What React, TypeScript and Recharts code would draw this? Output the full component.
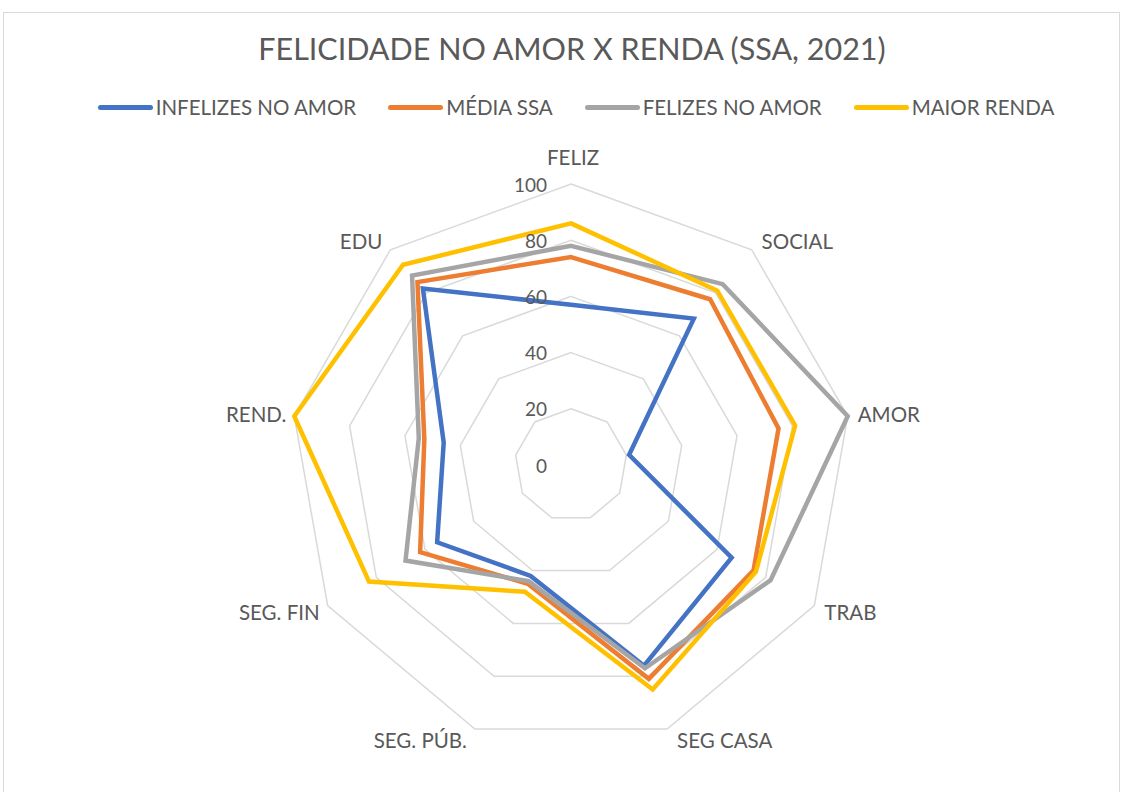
import { RadarChart, Radar, PolarGrid, PolarAngleAxis, PolarRadiusAxis } from "recharts";

const categories = ["FELIZ", "SOCIAL", "AMOR", "TRAB", "SEG CASA", "SEG. PÚB.", "SEG. FIN", "REND.", "EDU"];
const infelizes = [57, 68, 21, 66, 76, 42, 55, 46, 82];
const mediaSsa = [74, 77, 75, 75, 81, 45, 62, 53, 85];
const felizes = [78, 84, 100, 82, 77, 44, 68, 55, 88];
const maiorRenda = [86, 81, 81, 76, 85, 48, 83, 100, 93];
const radiusTicks = [0, 20, 40, 60, 80, 100];

const series = [
  { key: "infelizes", name: "INFELIZES NO AMOR", color: "#4472C4" },
  { key: "media", name: "MÉDIA SSA", color: "#ED7D31" },
  { key: "felizes", name: "FELIZES NO AMOR", color: "#A5A5A5" },
  { key: "renda", name: "MAIOR RENDA", color: "#FFC000" },
];

const data = categories.map((cat, i) => ({
  cat,
  infelizes: infelizes[i],
  media: mediaSsa[i],
  felizes: felizes[i],
  renda: maiorRenda[i],
}));

const FONT = "Lato, 'Open Sans', sans-serif";
const TEXT = "#595959";
const CX = 571;
const CY = 465;
const R = 281;

const AngleTick = (props: any) => {
  const { payload, index } = props;
  const ang = ((90 - index * (360 / categories.length)) * Math.PI) / 180;
  const cos = Math.cos(ang);
  const sin = Math.sin(ang);
  const vx = CX + R * cos;
  const vy = CY - R * sin;
  let anchor = "middle";
  let x = vx + 2;
  if (cos > 0.1) {
    anchor = "start";
    x = vx + 10;
  } else if (cos < -0.1) {
    anchor = "end";
    x = vx - 8;
  }
  const y = vy - sin * 12 - (sin > 0.95 ? 15 : 0);
  return (
    <text x={x} y={y} textAnchor={anchor} dominantBaseline="central" fill={TEXT} fontSize={20.5} fontFamily={FONT}>
      {payload.value}
    </text>
  );
};

const RadiusTick = (props: any) => {
  const { x, y, payload } = props;
  return (
    <text x={x - 24} y={y} textAnchor="end" dominantBaseline="central" fill={TEXT} fontSize={19} fontFamily={FONT}>
      {payload.value}
    </text>
  );
};

export default function App() {
  return (
    <div style={{ position: "absolute", left: 0, top: 0, width: 1126, height: 792, background: "#fff", overflow: "hidden" }}>
      <div
        style={{
          position: "absolute",
          left: 3,
          top: 12,
          width: 1115,
          height: 820,
          border: "1px solid #d9d9d9",
        }}
      />
      <div
        style={{
          position: "absolute",
          left: 0,
          width: 1144,
          top: 30,
          textAlign: "center",
          fontFamily: FONT,
          fontSize: 30.5,
          color: TEXT,
        }}
      >
        FELICIDADE NO AMOR X RENDA (SSA, 2021)
      </div>
      <div
        style={{
          position: "absolute",
          left: 0,
          width: 1152,
          top: 95,
          display: "flex",
          justifyContent: "center",
          gap: 32,
          fontFamily: FONT,
          fontSize: 20.5,
          color: TEXT,
        }}
      >
        {series.map((s) => (
          <div key={s.key} style={{ display: "flex", alignItems: "center", gap: 3 }}>
            <div style={{ width: 55, height: 5, borderRadius: 3, background: s.color }} />
            <span>{s.name}</span>
          </div>
        ))}
      </div>
      <div style={{ position: "absolute", left: 0, top: 0 }}>
        <RadarChart width={1126} height={792} data={data} cx={CX} cy={CY} outerRadius={R} startAngle={90} endAngle={-270}>
          <PolarGrid gridType="polygon" radialLines={false} stroke="#d9d9d9" strokeWidth={1.5} />
          <PolarAngleAxis dataKey="cat" tick={AngleTick} tickLine={false} axisLine={false} />
          <PolarRadiusAxis
            angle={90}
            domain={[0, 100]}
            ticks={radiusTicks}
            tickCount={6}
            axisLine={false}
            tickLine={false}
            tick={RadiusTick}
          />
          {series.map((s) => (
            <Radar
              key={s.key}
              dataKey={s.key}
              name={s.name}
              stroke={s.color}
              strokeWidth={4.5}
              fill="none"
              fillOpacity={0}
              dot={false}
              isAnimationActive={false}
            />
          ))}
        </RadarChart>
      </div>
    </div>
  );
}
